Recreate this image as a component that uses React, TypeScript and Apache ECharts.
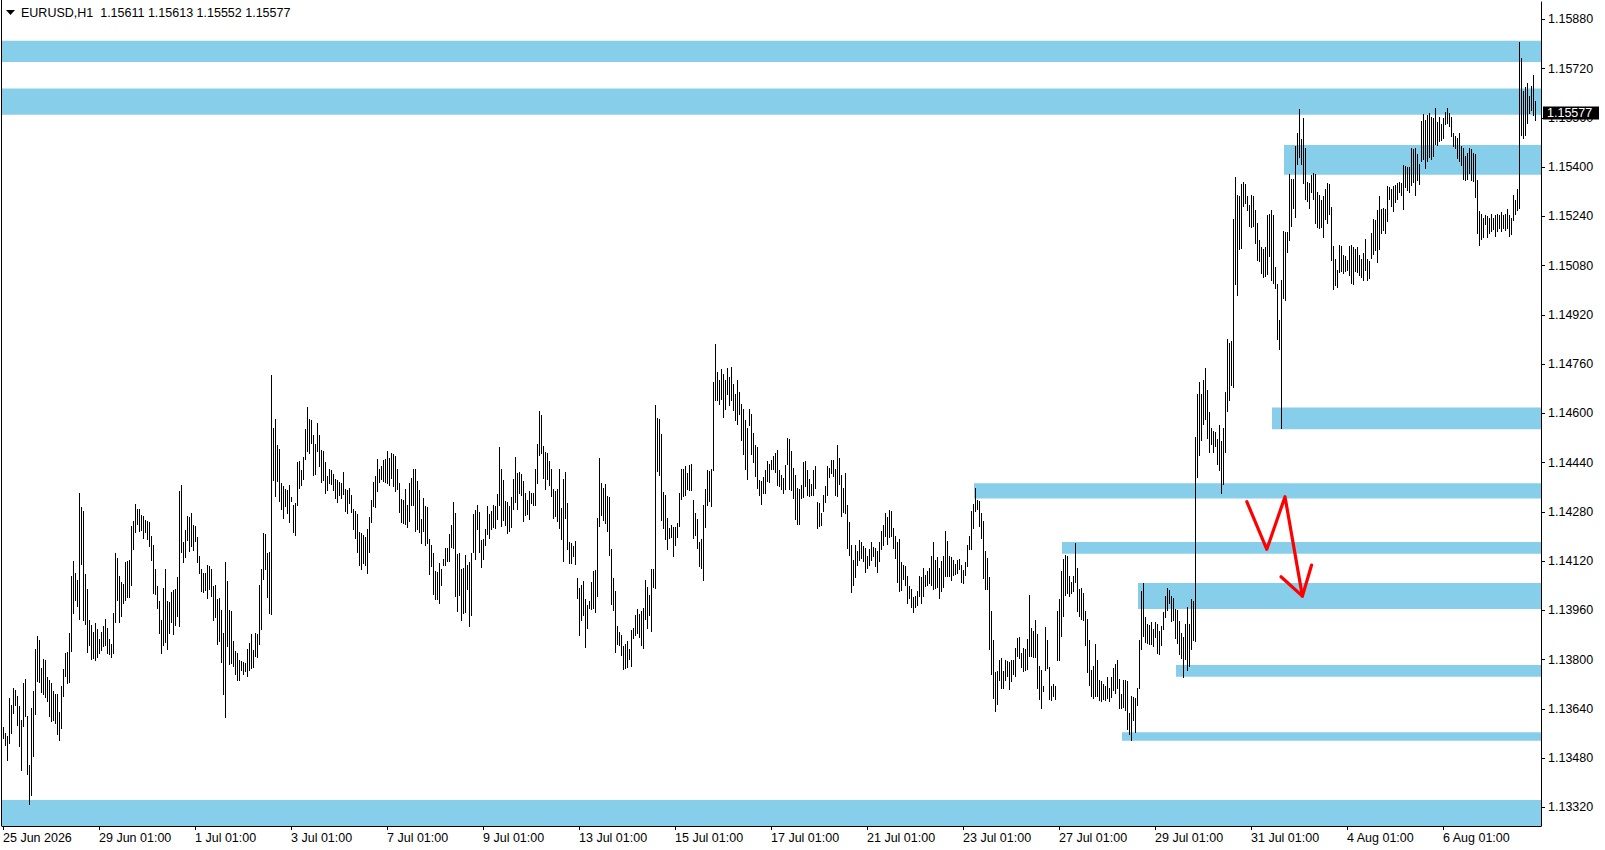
import React, { useEffect, useRef } from "react";
import * as echarts from "echarts";

// ---------- data ----------
const SYMBOL = "EURUSD,H1";
const LAST_OHLC = [1.15611, 1.15613, 1.15552, 1.15577];
const POINT = 0.00001; // prices below are in points (1e-5)

const HIGH_PTS = [
113578,113560,113549,113672,113652,113706,113700,113679,113649,113601,
113723,113736,113616,113457,113641,113695,113833,113876,113863,113771,
113800,113798,113742,113733,113723,113695,113688,113685,113627,113714,
113768,113820,113822,113883,114071,114118,114080,114058,114338,114294,
114280,114075,114028,113928,113909,113887,113917,113898,113865,113887,
113907,113930,113901,113865,113850,113948,114145,114129,114071,114050,
114045,114115,114118,114121,114232,114248,114305,114288,114286,114269,
114265,114253,114248,114245,114201,114169,114093,114037,113988,113928,
114031,114091,113988,113985,114017,114024,114028,114067,114345,114364,
114180,114219,114264,114262,114273,114237,114232,114197,114136,114093,
114080,114078,114104,114102,114091,114037,114039,113995,113999,113959,
113885,114115,114053,113959,113955,113858,113825,113820,113798,113793,
113790,113788,113831,113853,113880,113829,113883,113880,114042,114093,
114208,114205,114145,114147,114724,114551,114580,114494,114481,114372,
114362,114351,114348,114367,114326,114302,114307,114440,114443,114414,
114457,114546,114620,114579,114576,114527,114497,114568,114527,114479,
114476,114440,114394,114418,114414,114400,114386,114383,114375,114372,
114407,114353,114350,114356,114332,114286,114281,114270,114212,114209,
114202,114197,114223,114262,114316,114375,114394,114449,114416,114427,
114446,114451,114476,114454,114470,114465,114459,114416,114371,114321,
114316,114353,114299,114371,114389,114418,114416,114378,114349,114254,
114324,114297,114294,114191,114169,114143,114086,114083,114113,114093,
114126,114162,114160,114205,114237,114310,114273,114140,114143,114093,
114097,114137,114107,114115,114145,114270,114284,114299,114277,114186,
114189,114223,114297,114270,114281,114299,114297,114335,114490,114418,
114381,114313,114310,114297,114327,114386,114457,114403,114407,114400,
114378,114338,114316,114346,114338,114340,114418,114497,114606,114592,
114492,114472,114470,114443,114418,114351,114346,114353,114418,114292,
114386,114407,114308,114180,114178,114167,114182,114064,114032,114039,
114053,113994,113974,113988,114050,114086,114089,114259,114454,114371,
114357,114368,114330,114328,114158,114064,114021,113907,113888,113877,
113842,113848,113858,113834,113894,113902,113942,113963,113945,113956,
113967,114057,114035,114007,114093,114091,114624,114584,114580,114530,
114343,114332,114259,114227,114234,114230,114228,114243,114338,114416,
114418,114427,114403,114429,114435,114316,114273,114255,114180,114190,
114299,114353,114413,114410,114418,114700,114822,114734,114708,114741,
114725,114708,114747,114715,114750,114692,114660,114708,114669,114627,
114611,114578,114552,114611,114595,114535,114494,114490,114381,114378,
114392,114413,114443,114435,114448,114461,114468,114478,114413,114399,
114389,114432,114518,114515,114475,114421,114399,114356,114353,114364,
114439,114443,114413,114385,114370,114413,114426,114309,114306,114273,
114334,114361,114426,114421,114448,114446,114416,114494,114454,114399,
114356,114403,114299,114244,114172,114123,114169,114150,114186,114180,
114167,114161,114136,114158,114180,114164,114161,114150,114180,114215,
114234,114273,114262,114283,114280,114226,114201,114180,114190,114115,
114107,114102,114069,114037,114026,114002,114004,114020,114069,114067,
114096,114074,114085,114096,114136,114180,114123,114132,114096,114118,
114134,114215,114183,114136,114133,114123,114110,114123,114125,114104,
114089,114115,114172,114201,114280,114305,114356,114318,114315,114273,
114248,114150,114129,114067,113955,113861,113757,113760,113798,113804,
113760,113796,113793,113790,113796,113798,113836,113869,113872,113820,
113836,113831,113865,114009,113901,113890,113928,113880,113779,113766,
113712,113904,113861,113774,113712,113720,113714,113955,113995,114085,
114125,114139,114136,114069,114050,114071,114177,114096,114028,114031,
114013,113955,113930,113863,113766,113777,113850,113796,113733,113730,
113720,113713,113741,113706,113741,113770,113784,113796,113734,113685,
113733,113731,113728,113625,113679,113677,113674,113706,113863,114020,
114047,113935,113913,113910,113920,113899,113920,113913,113892,113906,
113953,114006,114030,114025,114006,113999,113963,113960,113925,113885,
113870,113913,113968,113913,113996,113990,114521,114660,114700,114660,
114707,114746,114674,114603,114550,114540,114536,114514,114560,114507,
114550,114669,114840,114826,114832,115230,115366,115308,115304,115344,
115351,115344,115304,115275,115308,115304,115258,115215,115161,115137,
115132,115137,115244,115247,115258,115244,115075,115018,114903,115032,
115190,115187,115187,115376,115361,115358,115466,115509,115587,115490,
115559,115459,115351,115348,115373,115380,115376,115318,115308,115290,
115304,115327,115347,115344,115270,115141,115101,115065,115144,115141,
115112,115108,115098,115141,115144,115140,115132,115137,115112,115101,
115118,115165,115101,115094,115184,115230,115226,115258,115304,115261,
115265,115262,115337,115333,115327,115337,115341,115347,115351,115347,
115404,115401,115398,115399,115461,115458,115461,115441,115409,115547,
115570,115552,115566,115573,115562,115559,115590,115545,115562,115537,
115559,115576,115590,115573,115562,115509,115499,115494,115509,115466,
115459,115433,115444,115461,115458,115444,115441,115356,115255,115247,
115233,115244,115240,115233,115247,115233,115241,115247,115244,115251,
115244,115247,115261,115244,115233,115308,115290,115327,115805,115752,
115645,115659,115670,115630,115662,115699,115613
];

const LOW_PTS = [
113544,113522,113471,113528,113560,113625,113652,113587,113517,113441,
113582,113614,113425,113329,113357,113486,113623,113728,113725,113692,
113685,113677,113663,113616,113598,113602,113592,113558,113536,113576,
113679,113746,113723,113725,113825,113948,113993,113972,113930,114110,
113928,113915,113822,113847,113800,113804,113798,113807,113820,113829,
113842,113844,113820,113815,113807,113820,113920,113993,113920,113939,
113982,113991,114002,114000,114039,114158,114212,114240,114215,114218,
114194,114212,114190,114167,114123,114013,114010,113966,113885,113820,
113844,113855,113833,113885,113920,113880,113909,113939,113907,114147,
114115,114132,114188,114150,114167,114154,114183,114115,114080,114020,
114018,114024,113999,114026,114006,113926,113937,113850,113858,113790,
113688,113612,113842,113785,113788,113777,113750,113733,113731,113766,
113750,113762,113744,113766,113771,113775,113809,113805,113850,113898,
114060,114091,114002,113948,113945,114383,114331,114380,114313,114286,
114259,114297,114275,114245,114313,114212,114204,114302,114356,114364,
114386,114449,114476,114468,114501,114397,114400,114476,114427,114375,
114381,114340,114349,114371,114368,114349,114324,114310,114332,114324,
114335,114281,114273,114306,114277,114223,114194,114148,114107,114091,
114113,114104,114080,114148,114245,114297,114295,114346,114375,114386,
114378,114376,114373,114364,114389,114362,114346,114353,114277,114245,
114243,114240,114230,114248,114299,114302,114216,114223,114214,114176,
114216,114172,114176,114075,114102,114010,113996,113994,113981,114042,
114107,114104,114118,114120,114165,114162,114005,113956,114007,113927,
113948,113953,114028,113907,113942,114148,114126,114221,114148,114100,
114124,114169,114205,114194,114223,114230,114227,114256,114302,114232,
114252,114235,114208,114216,114230,114286,114310,114288,114340,114332,
114248,114267,114270,114256,114308,114299,114302,114373,114462,114470,
114389,114353,114386,114364,114330,114259,114265,114250,114227,114189,
114118,114259,114158,114111,114113,114135,114109,113999,113877,113927,
113942,113840,113902,113967,113963,113965,113953,114005,114232,114267,
114252,114243,114216,114137,113978,113959,113823,113848,113844,113812,
113769,113772,113775,113799,113779,113869,113877,113883,113872,113844,
113837,113929,113902,113942,113891,114035,114030,114411,114397,114252,
114227,114191,114156,114194,114196,114135,114172,114198,114232,114321,
114330,114332,114353,114349,114348,114194,114204,114161,114102,114096,
114056,114229,114299,114313,114296,114413,114643,114640,114627,114645,
114585,114611,114660,114625,114643,114608,114578,114562,114595,114513,
114465,114416,114384,114559,114465,114439,114394,114356,114334,114305,
114338,114340,114378,114374,114416,114418,114407,114367,114361,114351,
114338,114351,114435,114351,114348,114324,114255,114240,114238,114324,
114327,114361,114334,114331,114333,114334,114356,114226,114231,114234,
114280,114309,114334,114392,114405,114394,114334,114330,114370,114266,
114277,114275,114161,114139,114017,114042,114067,114107,114121,114129,
114118,114082,114096,114107,114121,114134,114102,114082,114118,114156,
114169,114199,114175,114197,114199,114161,114129,114050,114020,114023,
114060,114039,113982,113999,113969,113952,113969,113977,114006,113982,
114004,114037,114042,114047,114039,114028,114031,114034,113999,114020,
114034,114071,114069,114071,114056,114074,114076,114080,114091,114050,
114047,114074,114102,114156,114158,114226,114280,114286,114231,114194,
114064,114028,114026,113831,113750,113674,113630,113655,113733,113706,
113706,113731,113746,113703,113728,113750,113746,113811,113804,113774,
113760,113764,113768,113811,113809,113807,113805,113706,113670,113641,
113695,113766,113771,113670,113668,113679,113670,113796,113798,113876,
113941,114009,114015,114006,114015,114020,114050,113955,113941,113930,
113928,113847,113757,113717,113679,113674,113679,113681,113668,113663,
113670,113667,113673,113663,113677,113698,113691,113706,113640,113641,
113645,113636,113573,113555,113538,113603,113562,113652,113706,113833,
113876,113856,113853,113850,113849,113842,113873,113820,113816,113844,
113896,113935,113959,113982,113925,113927,113867,113853,113816,113802,
113741,113799,113763,113777,113834,113863,113860,114393,114464,114511,
114564,114579,114517,114474,114500,114474,114493,114435,114414,114340,
114368,114474,114607,114643,114689,114685,115018,114984,115132,115135,
115273,115280,115258,115208,115205,115208,115151,115098,115094,115055,
115041,115044,115051,115108,115032,115022,115004,114840,114808,114550,
114972,114965,115122,115161,115208,115265,115237,115409,115430,115409,
115347,115294,115287,115265,115316,115294,115215,115204,115200,115204,
115170,115230,115215,115247,115098,115001,115015,115008,115058,115061,
115055,115061,115064,115047,115022,115018,115061,115058,115047,115041,
115032,115065,115032,115037,115104,115115,115129,115089,115132,115184,
115194,115184,115223,115294,115273,115255,115284,115294,115318,115308,
115261,115333,115323,115316,115341,115351,115308,115356,115344,115419,
115423,115394,115419,115430,115423,115433,115473,115470,115484,115487,
115494,115537,115542,115533,115499,115466,115461,115427,115419,115404,
115358,115355,115358,115380,115356,115352,115301,115184,115144,115165,
115170,115212,115172,115184,115190,115198,115175,115190,115201,115190,
115201,115194,115201,115175,115180,115227,115247,115258,115265,115502,
115494,115502,115542,115573,115585,115566,115552
];

const Y_TICKS = [
  1.1332, 1.1348, 1.1364, 1.138, 1.1396, 1.1412, 1.1428, 1.1444, 1.146,
  1.1476, 1.1492, 1.1508, 1.1524, 1.154, 1.1556, 1.1572, 1.1588,
];
const Y_MIN = 1.132592;
const Y_MAX = 1.159362;

const X_MIN = -0.5;
const X_MAX = 769;
const X_TICK_BARS = [0, 48, 96, 144, 192, 240, 288, 336, 384, 432, 480, 528, 576, 624, 672, 720];
const X_TICK_LABELS = [
  "25 Jun 2026", "29 Jun 01:00", "1 Jul 01:00", "3 Jul 01:00", "7 Jul 01:00",
  "9 Jul 01:00", "13 Jul 01:00", "15 Jul 01:00", "17 Jul 01:00", "21 Jul 01:00",
  "23 Jul 01:00", "27 Jul 01:00", "29 Jul 01:00", "31 Jul 01:00", "4 Aug 01:00",
  "6 Aug 01:00",
];

// zones: start bar (null = from the left edge), top price, bottom price
const ZONE_START_BAR = [null, null, 641, 635, 486, 530, 568, 587, 560, null];
const ZONE_TOP = [1.1581, 1.15655, 1.15472, 1.14619, 1.14373, 1.14182, 1.14049, 1.13782, 1.13564, 1.13344];
const ZONE_BOTTOM = [1.15741, 1.1557, 1.15375, 1.14548, 1.14323, 1.14144, 1.13964, 1.13744, 1.13536, Y_MIN];

// hand-drawn red arrow (bar index, price)
const ARROW_PATH_BAR = [621.9, 631.9, 641, 649.7];
const ARROW_PATH_PRICE = [1.14313, 1.14158, 1.14329, 1.14006];
const ARROW_HEAD_BAR = [639, 649.7, 654.3];
const ARROW_HEAD_PRICE = [1.14069, 1.14006, 1.14107];

// ---------- styling ----------
const FONT = '"Liberation Sans", Arial, sans-serif';
const FONT_SIZE = 12.5;
const ZONE_COLOR = "#87CEEB";

function buildOption() {
  const bars = HIGH_PTS.map((h, i) => [i, h * POINT, LOW_PTS[i] * POINT]);
  const zones = ZONE_TOP.map((t, i) => [
    ZONE_START_BAR[i] === null ? X_MIN : (ZONE_START_BAR[i] as number),
    t,
    ZONE_BOTTOM[i],
  ]);
  const lastIndex = HIGH_PTS.length - 1;
  const header = `${SYMBOL}  ${LAST_OHLC.map((v) => v.toFixed(5)).join(" ")}`;

  return {
    animation: false,
    backgroundColor: "#ffffff",
    grid: { left: 2, right: 64, top: 2, bottom: 24, containLabel: false },
    xAxis: {
      type: "value",
      min: X_MIN,
      max: X_MAX,
      axisLine: { show: true, onZero: false, lineStyle: { color: "#000", width: 1 } },
      axisTick: {
        show: true,
        customValues: X_TICK_BARS,
        length: 4,
        lineStyle: { color: "#000" },
      },
      axisLabel: {
        customValues: X_TICK_BARS,
        formatter: (v: number) => {
          const k = X_TICK_BARS.indexOf(Math.round(v));
          return k >= 0 ? X_TICK_LABELS[k] : "";
        },
        align: "left",
        margin: 5,
        color: "#000",
        fontFamily: FONT,
        fontSize: FONT_SIZE,
      },
      splitLine: { show: false },
    },
    yAxis: {
      type: "value",
      position: "right",
      min: Y_MIN,
      max: Y_MAX,
      axisLine: { show: true, onZero: false, lineStyle: { color: "#000", width: 1 } },
      axisTick: {
        show: true,
        customValues: Y_TICKS,
        length: 4,
        lineStyle: { color: "#000" },
      },
      axisLabel: {
        customValues: Y_TICKS,
        formatter: (v: number) => v.toFixed(5),
        margin: 7,
        color: "#000",
        fontFamily: FONT,
        fontSize: FONT_SIZE,
      },
      splitLine: { show: false },
    },
    graphic: [
      {
        type: "line",
        silent: true,
        shape: { x1: 1.5, y1: 0, x2: 1.5, y2: 826 },
        style: { stroke: "#000", lineWidth: 1 },
      },
      {
        type: "polygon",
        silent: true,
        shape: { points: [[6, 10], [15, 10], [10.5, 15]] },
        style: { fill: "#000" },
      },
      {
        type: "text",
        silent: true,
        x: 21,
        y: 13,
        style: {
          text: header,
          fill: "#000",
          font: `${FONT_SIZE}px ${FONT}`,
          verticalAlign: "middle",
        },
      },
    ],
    series: [
      {
        type: "custom",
        name: "zones",
        silent: true,
        z: 1,
        data: zones,
        encode: { x: 0, y: [1, 2] },
        renderItem: (params: any, api: any) => {
          const cs = params.coordSys;
          const s = api.value(0);
          const p1 = api.coord([s, api.value(1)]);
          const p2 = api.coord([s, api.value(2)]);
          const x0 = Math.max(cs.x, Math.round(p1[0]) - 1);
          return {
            type: "rect",
            shape: { x: x0, y: p1[1], width: cs.x + cs.width - x0, height: p2[1] - p1[1] },
            style: { fill: ZONE_COLOR },
          };
        },
      },
      {
        type: "custom",
        name: "EURUSD",
        silent: true,
        z: 2,
        data: bars,
        encode: { x: 0, y: [1, 2] },
        renderItem: (_params: any, api: any) => {
          const i = api.value(0);
          const hi = api.coord([i, api.value(1)]);
          const lo = api.coord([i, api.value(2)]);
          const x = Math.round(hi[0]) + 0.5;
          const y1 = Math.floor(hi[1]);
          let y2 = Math.ceil(lo[1]);
          if (y2 - y1 < 1) y2 = y1 + 1;
          return {
            type: "line",
            shape: { x1: x, y1, x2: x, y2 },
            style: { stroke: "#000", lineWidth: 1 },
          };
        },
      },
      {
        type: "custom",
        name: "arrow",
        silent: true,
        z: 3,
        data: [[ARROW_PATH_BAR[0], ARROW_PATH_PRICE[0]]],
        encode: { x: 0, y: 1 },
        renderItem: (_params: any, api: any) => {
          const path = ARROW_PATH_BAR.map((b, k) => api.coord([b, ARROW_PATH_PRICE[k]]));
          const head = ARROW_HEAD_BAR.map((b, k) => api.coord([b, ARROW_HEAD_PRICE[k]]));
          return {
            type: "group",
            children: [
              {
                type: "polyline",
                shape: { points: path },
                style: { stroke: "#ff0000", lineWidth: 3.2, fill: null, lineJoin: "round", lineCap: "round" },
              },
              {
                type: "polyline",
                shape: { points: head },
                style: { stroke: "#ff0000", lineWidth: 3.2, fill: null, lineJoin: "round", lineCap: "round" },
              },
            ],
          };
        },
      },
      {
        type: "custom",
        name: "price",
        silent: true,
        z: 10,
        clip: false,
        data: [[lastIndex, LAST_OHLC[3]]],
        encode: { x: 0, y: 1 },
        renderItem: (params: any, api: any) => {
          const cs = params.coordSys;
          const p = api.coord([api.value(0), api.value(1)]);
          const x0 = cs.x + cs.width + 2;
          const yc = Math.round(p[1]);
          return {
            type: "group",
            children: [
              {
                type: "rect",
                shape: { x: x0, y: yc - 6.5, width: 56, height: 13 },
                style: { fill: "#000" },
              },
              {
                type: "text",
                style: {
                  text: (api.value(1) as number).toFixed(5),
                  x: x0 + 4,
                  y: yc,
                  fill: "#fff",
                  font: `${FONT_SIZE}px ${FONT}`,
                  verticalAlign: "middle",
                  align: "left",
                },
              },
            ],
          };
        },
      },
    ],
  };
}

export default function App() {
  const ref = useRef<HTMLDivElement>(null);
  useEffect(() => {
    if (!ref.current) return;
    const chart = echarts.init(ref.current, null, { renderer: "svg" });
    chart.setOption(buildOption() as any);
    return () => chart.dispose();
  }, []);
  return (
    <div
      ref={ref}
      style={{ position: "absolute", left: 0, top: 0, width: 1605, height: 850, background: "#fff" }}
    />
  );
}
